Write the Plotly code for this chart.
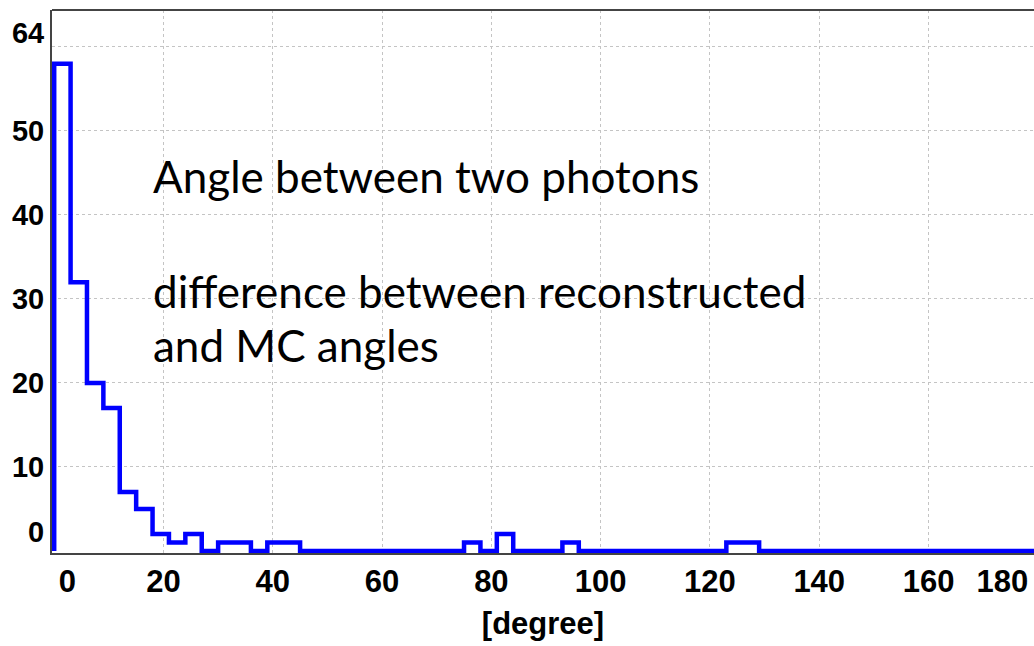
import plotly.graph_objects as go

# ---- data ----
bin_width_deg = 3
counts = [58, 32, 20, 17, 7, 5, 2, 1, 2, 0,
          1, 1, 0, 1, 1, 0, 0, 0, 0, 0,
          0, 0, 0, 0, 0, 1, 0, 2, 0, 0,
          0, 1, 0, 0, 0, 0, 0, 0, 0, 0,
          0, 1, 1, 0, 0, 0, 0, 0, 0, 0,
          0, 0, 0, 0, 0, 0, 0, 0, 0, 0]
x_tick_text = ["0", "20", "40", "60", "80", "100", "120", "140", "160", "180"]
y_tick_text = ["0", "10", "20", "30", "40", "50", "64"]
x_grid_vals = [20, 40, 60, 80, 100, 120, 140, 160]
y_grid_vals = [10, 20, 30, 40, 50, 60]
text_lines = ["Angle between two photons",
              "difference between reconstructed",
              "and MC angles"]

# ---- build step outline ----
edges = [i * bin_width_deg for i in range(len(counts) + 1)]
xs = [edges[0]] + edges[:-1] + [edges[-1]]
ys = [0] + counts + [0]

# label placement (as in the original, some labels are offset from their grid lines)
x_tick_pos = [2.4, 20, 40, 60, 80, 100, 120, 140, 160, 173.5]
y_tick_pos = [2.3, 10, 20, 30, 40, 50, 61.7]

fig = go.Figure()
fig.add_trace(go.Scatter(
    x=xs, y=ys, mode="lines", line=dict(color="#0000FF", width=4.5, shape="hv"),
    showlegend=False, hoverinfo="skip"))

axis_col = "#444444"
grid_col = "#c4c4c4"

fig.update_layout(
    width=1034, height=646,
    margin=dict(l=52, r=0, t=10, b=93),
    paper_bgcolor="white", plot_bgcolor="white",
    xaxis=dict(
        range=[-0.4, 179.3], showgrid=False, zeroline=False,
        showline=True, linecolor=axis_col, linewidth=2,
        tickmode="array", tickvals=x_tick_pos, ticktext=x_tick_text,
        ticks="",
        tickfont=dict(family="Liberation Sans", size=31, color="#000000", weight="bold"),
        title=dict(text="[degree]", standoff=14,
                   font=dict(family="Liberation Sans", size=31, color="#000000", weight="bold")),
        minor=dict(tickmode="array", tickvals=x_grid_vals, showgrid=True,
                   gridcolor=grid_col, griddash="dot", gridwidth=1, ticks=""),
    ),
    yaxis=dict(
        range=[-0.25, 64.4], showgrid=False, zeroline=False,
        showline=True, linecolor=axis_col, linewidth=2,
        tickmode="array", tickvals=y_tick_pos, ticktext=y_tick_text,
        ticks="",
        tickfont=dict(family="Liberation Sans", size=29, color="#000000", weight="bold"),
        minor=dict(tickmode="array", tickvals=y_grid_vals, showgrid=True,
                   gridcolor=grid_col, griddash="dot", gridwidth=1, ticks=""),
    ),
    shapes=[dict(type="line", xref="paper", yref="paper", x0=0, x1=1, y0=1, y1=1,
                 line=dict(color=axis_col, width=2))],
)

text_font = dict(family="Lato", size=44, color="#000000")
for txt, ypos in zip(text_lines, [0.6427, 0.4309, 0.3315]):
    fig.add_annotation(text=txt, xref="paper", yref="paper", x=0.101, y=ypos,
                       xanchor="left", yanchor="bottom", showarrow=False,
                       font=text_font, align="left")

fig.write_html("out.html")
